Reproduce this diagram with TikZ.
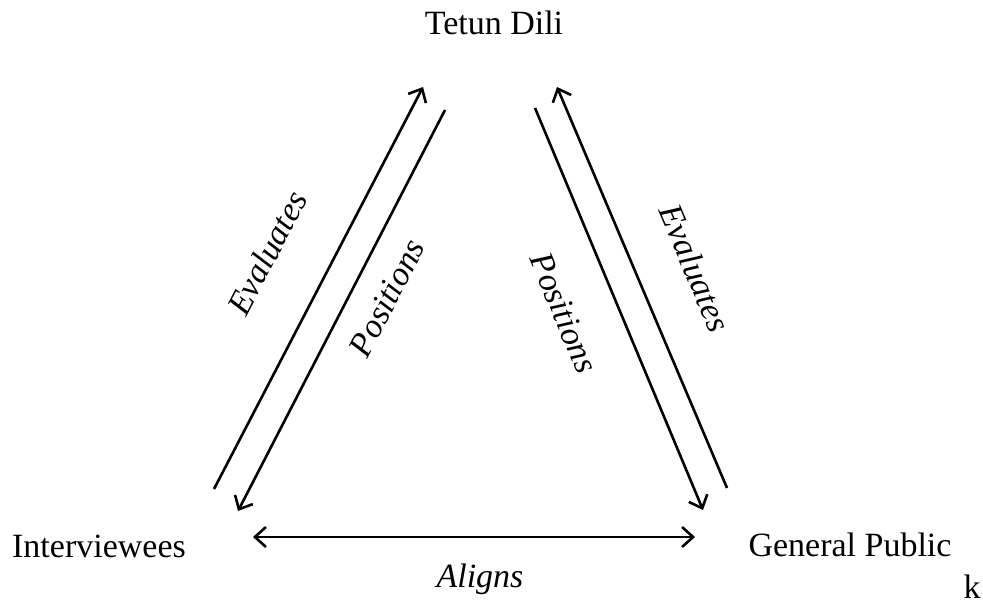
\documentclass[tikz,border=0pt]{standalone}
\usepackage{fontspec}
\setmainfont{Liberation Serif}
\usetikzlibrary{positioning,arrows.meta}

\begin{document}
\begin{tikzpicture}[x=0.5pt,y=-0.5pt,
    every node/.style={font=\fontsize{17pt}{20pt}\selectfont,inner sep=0pt},
    tip/.style={arrows={-Straight Barb[length=5.5pt,width=10pt,line width=1.3pt]}},
    link/.style={line width=1.3pt,tip},
    both/.style={line width=1.3pt,{Straight Barb[length=5.5pt,width=10pt,line width=1.3pt]}-{Straight Barb[length=5.5pt,width=10pt,line width=1.3pt]}},
    verb/.style={font=\fontsize{17pt}{20pt}\selectfont\itshape}]
    \useasboundingbox (0,0) rectangle (983,603);

    % corners of the triangle
    \node[anchor=base] (tetun) at (494,35) {Tetun Dili};
    \node[anchor=base] (inter) at (99,557) {Interviewees};
    \node[anchor=base] (public) at (850,556) {General Public};
    \node[anchor=base] (stray) at (972,598) {k};

    % arrow ends
    \coordinate (ie-a) at (214,489);  \coordinate (ie-b) at (423,87);
    \coordinate (ip-a) at (445,110);  \coordinate (ip-b) at (238,511);
    \coordinate (gp-a) at (535,108);  \coordinate (gp-b) at (703,510);
    \coordinate (ge-a) at (727,488);  \coordinate (ge-b) at (557,87);
    \coordinate (al-a) at (253,537);  \coordinate (al-b) at (695,537);

    \draw[link] (ie-a) -- (ie-b);
    \draw[link] (ip-a) -- (ip-b);
    \draw[link] (gp-a) -- (gp-b);
    \draw[link] (ge-a) -- (ge-b);
    \draw[both] (al-a) -- (al-b);

    % labels
    \node[verb,rotate=62.5] (ie-lab) at (267,253) {Evaluates};
    \node[verb,rotate=62.7] (ip-lab) at (387,298) {Positions};
    \node[verb,rotate=-67.3] (gp-lab) at (564,313) {Positions};
    \node[verb,rotate=-67] (ge-lab) at (695,268) {Evaluates};
    \node[verb,anchor=base] (al-lab) at (480,587) {Aligns};
  \end{tikzpicture}
\end{document}
